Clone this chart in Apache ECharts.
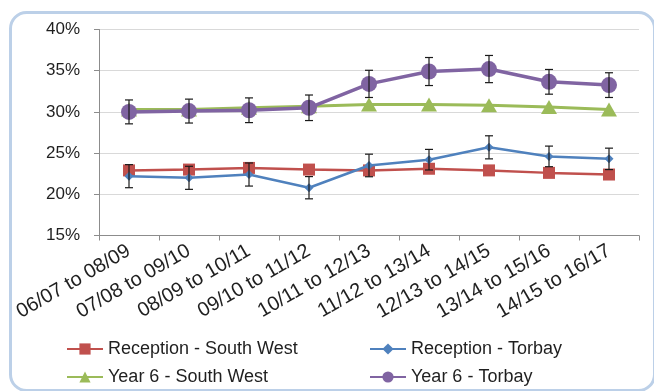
<!DOCTYPE html>
<html>
<head>
<meta charset="utf-8">
<script src="https://cdn.jsdelivr.net/npm/echarts@6/dist/echarts.min.js"></script>
<style>
  html, body { margin: 0; padding: 0; background: #ffffff; }
  #chart { width: 654px; height: 391px; }
</style>
</head>
<body>
<div id="chart"></div>
<script>
// Rolling three-year periods
const periods = ['06/07 to 08/09', '07/08 to 09/10', '08/09 to 10/11', '09/10 to 11/12',
  '10/11 to 12/13', '11/12 to 13/14', '12/13 to 14/15', '13/14 to 15/16', '14/15 to 16/17'];

// Prevalence (%)
const receptionSouthWest = [22.9, 23.0, 23.2, 23.0, 22.9, 23.1, 22.9, 22.6, 22.4];
const receptionTorbay    = [22.2, 22.0, 22.4, 20.8, 23.5, 24.2, 25.7, 24.6, 24.3];
const year6SouthWest     = [30.3, 30.3, 30.5, 30.7, 30.9, 30.9, 30.8, 30.6, 30.3];
const year6Torbay        = [30.0, 30.1, 30.2, 30.5, 33.4, 34.9, 35.2, 33.65, 33.25];

// 95% confidence interval half-widths (percentage points)
const receptionTorbayCI = [1.4, 1.4, 1.4, 1.35, 1.37, 1.25, 1.4, 1.25, 1.3];
const year6TorbayCI     = [1.45, 1.45, 1.5, 1.55, 1.65, 1.7, 1.65, 1.5, 1.5];

// Value axis ticks
const yMin = 15, yMax = 40, yStep = 5;

const FONT = "'Liberation Sans', Arial, sans-serif";
const TEXT = '#1f1f1f';

function errorBars(values, ci) {
  return values.map((v, i) => [i, v - ci[i], v + ci[i]]);
}

function renderErrorBar(params, api) {
  const x = api.value(0);
  const lo = api.coord([x, api.value(1)]);
  const hi = api.coord([x, api.value(2)]);
  const cap = 4;
  const style = { stroke: '#1a1a1a', lineWidth: 1.2 };
  return {
    type: 'group',
    children: [
      { type: 'line', shape: { x1: hi[0], y1: hi[1], x2: lo[0], y2: lo[1] }, style },
      { type: 'line', shape: { x1: hi[0] - cap, y1: hi[1], x2: hi[0] + cap, y2: hi[1] }, style },
      { type: 'line', shape: { x1: lo[0] - cap, y1: lo[1], x2: lo[0] + cap, y2: lo[1] }, style }
    ]
  };
}

const chart = echarts.init(document.getElementById('chart'), null, { renderer: 'canvas' });

const legendText = { color: TEXT, fontSize: 18, fontFamily: FONT, lineHeight: 18 };

chart.setOption({
  animation: false,
  backgroundColor: '#ffffff',
  graphic: [{
    type: 'rect',
    left: 8, top: 10,
    shape: { width: 644, height: 378, r: 16 },
    style: { fill: 'none', stroke: '#bcd0e8', lineWidth: 3 },
    z: 0
  }],
  grid: { left: 99, right: 15, top: 29.5, bottom: 155.5, containLabel: false },
  legend: [
    {
      data: ['Reception - South West', 'Year 6 - South West'],
      orient: 'vertical', left: 66, top: 340, height: 50, padding: 0,
      itemWidth: 36, itemHeight: 14, itemGap: 10,
      textStyle: legendText
    },
    {
      data: ['Reception - Torbay', 'Year 6 - Torbay'],
      orient: 'vertical', left: 369, top: 340, height: 50, padding: 0,
      itemWidth: 36, itemHeight: 14, itemGap: 10,
      textStyle: legendText
    }
  ],
  xAxis: {
    type: 'category',
    data: periods,
    boundaryGap: true,
    axisLine: { lineStyle: { color: '#8c8c8c', width: 1 } },
    axisTick: { show: true, inside: false, length: 5, lineStyle: { color: '#8c8c8c' } },
    axisLabel: {
      interval: 0, rotate: 30, margin: 14,
      color: TEXT, fontSize: 20, fontFamily: FONT
    },
    splitLine: { show: false }
  },
  yAxis: {
    type: 'value',
    min: yMin, max: yMax, interval: yStep,
    axisLine: { show: true, lineStyle: { color: '#8c8c8c', width: 1 } },
    axisTick: { show: true, inside: false, length: 5, lineStyle: { color: '#8c8c8c' } },
    axisLabel: {
      formatter: '{value}%', margin: 19,
      color: TEXT, fontSize: 17, fontFamily: FONT
    },
    splitLine: { lineStyle: { color: '#d9d9d9', width: 1 } }
  },
  series: [
    {
      name: 'Reception - South West', type: 'line', data: receptionSouthWest,
      symbol: 'rect', symbolSize: 12,
      lineStyle: { color: '#c0504d', width: 2.5 },
      itemStyle: { color: '#c0504d' }, z: 2
    },
    {
      name: 'Year 6 - South West', type: 'line', data: year6SouthWest,
      symbol: 'triangle', symbolSize: [16, 14],
      lineStyle: { color: '#9bbb59', width: 3 },
      itemStyle: { color: '#9bbb59' }, z: 3
    },
    {
      name: 'Reception - Torbay', type: 'line', data: receptionTorbay,
      symbol: 'diamond', symbolSize: 9,
      lineStyle: { color: '#4f81bd', width: 2.5 },
      itemStyle: { color: '#4f81bd' }, z: 4
    },
    {
      name: 'Year 6 - Torbay', type: 'line', data: year6Torbay,
      symbol: 'circle', symbolSize: 16,
      lineStyle: { color: '#8064a2', width: 3.5 },
      itemStyle: { color: '#8064a2' }, z: 5
    },
    {
      name: 'Reception - Torbay CI', type: 'custom',
      data: errorBars(receptionTorbay, receptionTorbayCI),
      renderItem: renderErrorBar, z: 10, silent: true
    },
    {
      name: 'Year 6 - Torbay CI', type: 'custom',
      data: errorBars(year6Torbay, year6TorbayCI),
      renderItem: renderErrorBar, z: 10, silent: true
    }
  ]
});
</script>
</body>
</html>
